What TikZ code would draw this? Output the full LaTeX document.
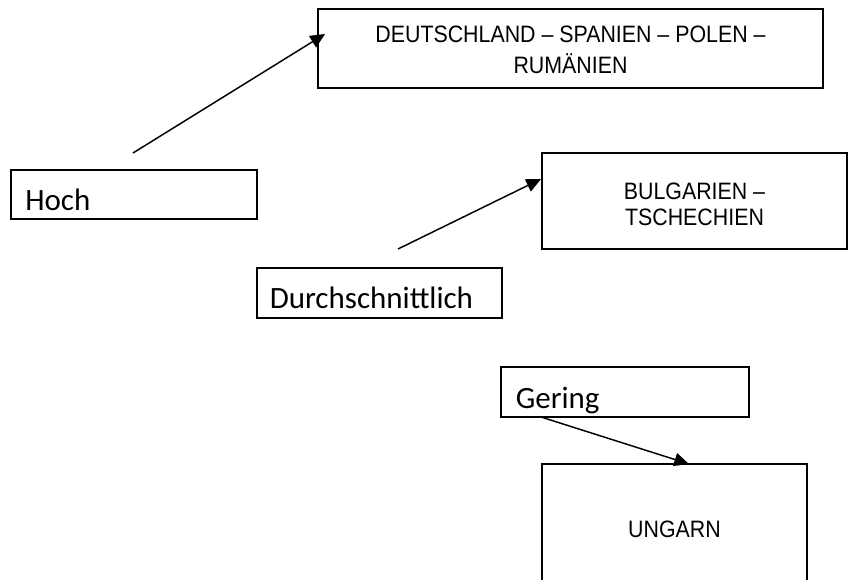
\documentclass[tikz,border=0pt]{standalone}
\usepackage{fontspec}
\setmainfont{Carlito}
\newfontfamily\arialfont[FakeStretch=0.9]{Liberation Sans}
\usetikzlibrary{arrows.meta,fit,calc}
\begin{document}
\begin{tikzpicture}[x=0.75pt,y=-0.75pt,
  abox/.style={draw, line width=1pt, inner sep=0pt, outer sep=0pt},
  cbox/.style={draw, line width=1.5pt, inner sep=0pt, outer sep=0pt},
  ctext/.style={inner sep=0pt, anchor=base west, font=\fontsize{23.25pt}{28pt}\selectfont},
  atext/.style={inner sep=0pt, anchor=base, align=center},
  arr/.style={line width=1.1pt, -{Triangle[length=11pt,width=10pt]}}]
\useasboundingbox (0,0) rectangle (856,580);
\clip (0,0) rectangle (856,580);
\fill[white] (0,0) rectangle (856,580);
% boxes
\node[abox, fit={(318,9) (823,88)}] (deu) {};
\node[cbox, fit={(11,170) (257,219)}] (hoch) {};
\node[abox, fit={(542,153) (847,249)}] (bulg) {};
\node[cbox, fit={(257,268) (502,318)}] (durch) {};
\node[cbox, fit={(501,367) (749,417)}] (gering) {};
\node[abox, fit={(542,464) (807,593)}] (ungarn) {};
% texts (base anchor = baseline of the last line)
\node[atext, font=\arialfont\fontsize{17.8pt}{23.8pt}\selectfont] (deutxt) at (570.5,74) {DEUTSCHLAND – SPANIEN – POLEN –\\RUMÄNIEN};
\node[atext, font=\arialfont\fontsize{17.8pt}{19.5pt}\selectfont] (bulgtxt) at (694.5,226) {BULGARIEN –\\TSCHECHIEN};
\node[atext, font=\arialfont\fontsize{17.8pt}{19.5pt}\selectfont] (ungtxt) at (674.5,537.3) {UNGARN};
\node[ctext] (hochtxt) at (25,210.7) {Hoch};
\node[ctext] (durchtxt) at (269.5,308.3) {Durchschnittlich};
\node[ctext] (geringtxt) at (515.5,408.3) {Gering};
% connectors
\coordinate (s1) at (133,153);
\coordinate (s2) at (398,249);
\draw[arr] (s1) -- ($(deu.north west)+(7,25)$);
\draw[arr] (s2) -- ($(bulg.north west)+(-1,26)$);
\draw[arr] ($(gering.south west)+(40,0)$) -- ($(ungarn.north west)+(147,0)$);
\end{tikzpicture}
\end{document}
